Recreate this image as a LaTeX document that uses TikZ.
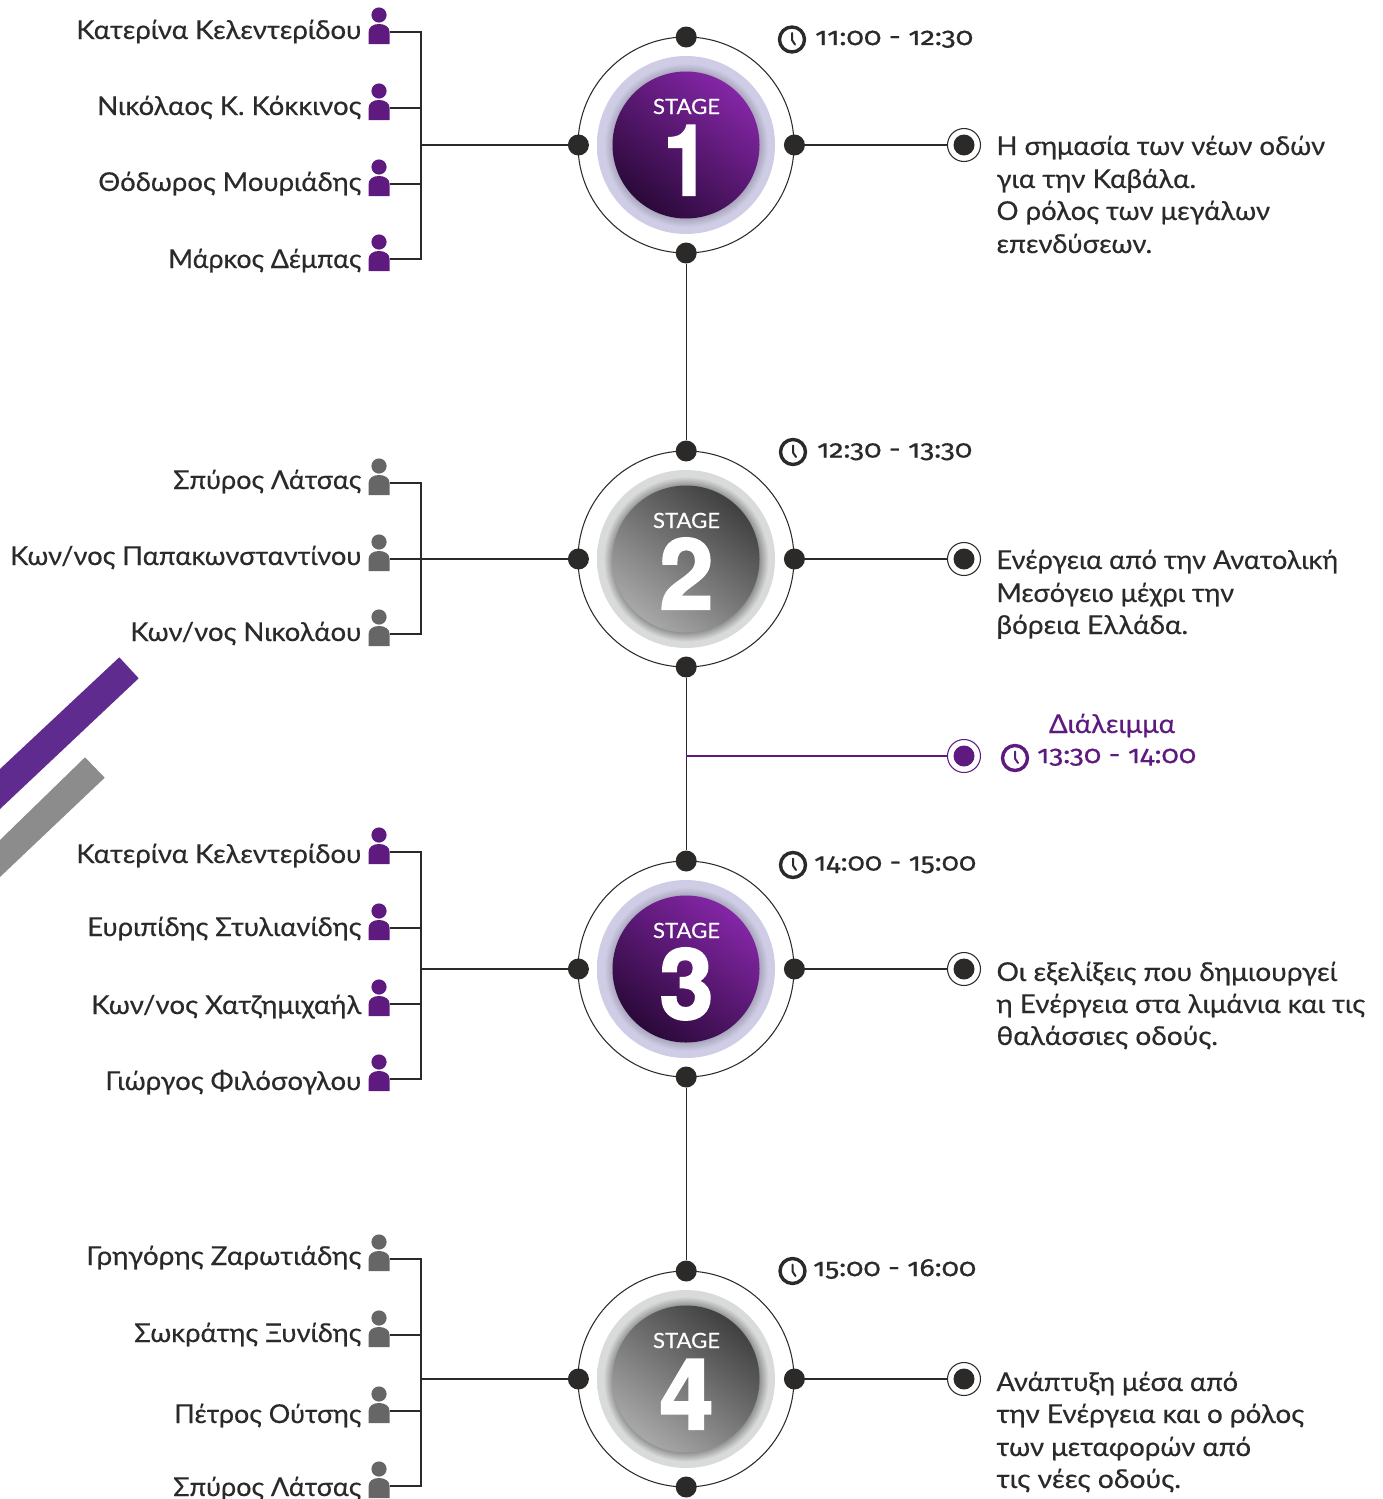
\documentclass[tikz,border=0pt]{standalone}
\usepackage{graphicx}
\usepackage{fontspec}
\setmainfont{Lato}
\newfontfamily\timefont[Numbers=OldStyle,FakeBold=0.5]{Fira Sans}
\newfontfamily\digitfont[FakeBold=2.2]{TeX Gyre Heros}
\newfontfamily\labelfont[FakeBold=0.35]{Lato}
\definecolor{ink}{HTML}{2B2A29}
\definecolor{vio}{HTML}{5F1A80}
\definecolor{pgrey}{HTML}{666666}
\definecolor{barvio}{HTML}{5F2B8E}
\definecolor{bargrey}{HTML}{8C8C8C}
\definecolor{vioLight}{HTML}{8426A6}
\definecolor{vioDark}{HTML}{2A0939}
\definecolor{greyDark}{HTML}{404040}
\definecolor{greyLight}{HTML}{A8A8A8}
\definecolor{HaloA}{HTML}{A5A2B8}
\definecolor{HaloB}{HTML}{CFCDE6}
\definecolor{HaloC}{HTML}{8C8C8C}
\definecolor{HaloD}{HTML}{D9DBDB}
\newcommand\fitw[2]{\resizebox{#1pt}{\height}{#2}}
\pgfdeclareradialshading{halopurple}{\pgfpoint{0bp}{0bp}}{color(0bp)=(HaloA);color(20.4bp)=(HaloA);color(23bp)=(HaloB);color(25bp)=(HaloB);color(50bp)=(HaloB)}
\pgfdeclareradialshading{halogrey}{\pgfpoint{0bp}{0bp}}{color(0bp)=(HaloC);color(20.4bp)=(HaloC);color(23.2bp)=(HaloD);color(25bp)=(HaloD);color(50bp)=(HaloD)}
\tikzset{
  x=1pt,y=-1pt,
  link/.style={draw=ink,line width=1.15pt},
  vlink/.style={draw=vio,line width=1.15pt},
  ringline/.style={draw=ink,line width=1.05pt},
  dot/.style={circle,fill=ink,draw=none,minimum size=21pt,inner sep=0pt},
  termring/.style={circle,fill=white,draw=#1,line width=1.05pt,minimum size=33pt,inner sep=0pt},
  termdot/.style={circle,fill=#1,draw=none,minimum size=21pt,inner sep=0pt},
  nametxt/.style={anchor=base east,inner sep=0pt,text=ink,font=\fontsize{26}{26}\labelfont},
  desctxt/.style={anchor=base west,inner sep=0pt,text=ink,font=\fontsize{26}{26}\labelfont},
  timetxt/.style={anchor=base west,inner sep=0pt,text=#1,font=\fontsize{25}{25}\timefont},
  stagetxt/.style={anchor=base,inner sep=0pt,text=white,font=\fontsize{21}{21}\labelfont},
  digittxt/.style={anchor=base,inner sep=0pt,text=white,font=\fontsize{98}{98}\digitfont\bfseries},
  clockring/.style={circle,draw=#1,fill=white,line width=3.4pt,minimum size=25pt,inner sep=0pt},
}
\newcommand\stagemark[7]{%
  \coordinate (c#1) at (686,#2);
  \draw[ringline] (c#1) circle[radius=108];
  \shade[shading=#3] (c#1) circle[radius=89];
  \shade[top color=#4,bottom color=#5,shading angle=-38] (c#1) circle[radius=73.5];
  \node[stagetxt] (st#1) at (686.5,#2-31) {\fitw{67}{STAGE}};
  \node[digittxt] (dg#1) at (#6,#2+50) {\fitw{#7}{#1}};
  \node[dot] (t#1) at (686.2,#2-108) {};
  \node[dot] (b#1) at (686.2,#2+108) {};
  \node[dot] (l#1) at (578.4,#2) {};
  \node[dot] (r#1) at (794.4,#2) {};
  \coordinate (j#1) at (421,#2);
  \draw[link] (j#1) -- (l#1);
  \node[termring=ink] (o#1) at (964,#2) {};
  \node[termdot=ink] (i#1) at (964,#2) {};
  \draw[link] (r#1) -- (o#1);
}
\newcommand\person[3]{%
  \fill[#3] (379,#2-17) circle[radius=7.6];
  \fill[#3] (368.6,#2+12) -- (368.6,#2) .. controls (368.6,#2-5) and (373,#2-8) .. (379,#2-8) .. controls (385,#2-8) and (389.6,#2-5) .. (389.6,#2) -- (389.6,#2+12) -- cycle;
  \coordinate (#1) at (389.6,#2);
}
\newcommand\clockmark[4]{%
  \node[clockring=#4] (#1) at (#2,#3) {};
  \draw[#4,line width=2pt,line cap=round,line join=round] (#2,#3-6.5) -- (#2,#3+0.5) -- (#2+3,#3+5);
}
\begin{document}
\begin{tikzpicture}
\useasboundingbox (0,0) rectangle (1383,1499);
\fill[white] (0,0) rectangle (1383,1499);
\fill[barvio] (119.3,657.3) -- (138.7,678.3) -- (0,809) -- (0,769) -- cycle;
\fill[bargrey] (85,757.3) -- (104.7,777.7) -- (0,877) -- (0,840) -- cycle;
\stagemark{1}{145}{halopurple}{vioLight}{vioDark}{686.5}{46}
\stagemark{2}{559}{halogrey}{greyDark}{greyLight}{686.5}{54}
\stagemark{3}{969}{halopurple}{vioLight}{vioDark}{686.5}{54}
\stagemark{4}{1379}{halogrey}{greyDark}{greyLight}{686.5}{54}
\draw[link] (b1) -- (t2);
\draw[link] (b2) -- (t3);
\draw[link] (b3) -- (t4);
\coordinate (brk) at (686,756);
\node[termring=vio] (obk) at (964,756) {};
\node[termdot=vio] (ibk) at (964,756) {};
\draw[vlink] (brk) -- (obk);
\person{p11}{32}{vio}\person{p12}{108}{vio}\person{p13}{184}{vio}\person{p14}{259}{vio}
\draw[link] (p11) -| (j1);\draw[link] (p12) -| (j1);\draw[link] (p13) -| (j1);\draw[link] (p14) -| (j1);
\person{p21}{483}{pgrey}\person{p22}{559}{pgrey}\person{p23}{634}{pgrey}
\draw[link] (p21) -| (j2);\draw[link] (p22) -- (j2);\draw[link] (p23) -| (j2);
\person{p31}{852}{vio}\person{p32}{928}{vio}\person{p33}{1004}{vio}\person{p34}{1079}{vio}
\draw[link] (p31) -| (j3);\draw[link] (p32) -| (j3);\draw[link] (p33) -| (j3);\draw[link] (p34) -| (j3);
\person{p41}{1259}{pgrey}\person{p42}{1335}{pgrey}\person{p43}{1411}{pgrey}\person{p44}{1486}{pgrey}
\draw[link] (p41) -| (j4);\draw[link] (p42) -| (j4);\draw[link] (p43) -| (j4);\draw[link] (p44) -| (j4);
\node[nametxt] (n11) at (361.5,39) {\fitw{285}{Κατερίνα Κελεντερίδου}};
\node[nametxt] (n12) at (361.5,115) {\fitw{264}{Νικόλαος Κ. Κόκκινος}};
\node[nametxt] (n13) at (361.5,191) {\fitw{263}{Θόδωρος Μουριάδης}};
\node[nametxt] (n14) at (361.5,268) {\fitw{193}{Μάρκος Δέμπας}};
\node[nametxt] (n21) at (361.5,489) {\fitw{188}{Σπύρος Λάτσας}};
\node[nametxt] (n22) at (361.5,565) {\fitw{351}{Κων/νος Παπακωνσταντίνου}};
\node[nametxt] (n23) at (361.5,641) {\fitw{231}{Κων/νος Νικολάου}};
\node[nametxt] (n31) at (361.5,863) {\fitw{285}{Κατερίνα Κελεντερίδου}};
\node[nametxt] (n32) at (361.5,936) {\fitw{274}{Ευριπίδης Στυλιανίδης}};
\node[nametxt] (n33) at (361.5,1014) {\fitw{270}{Κων/νος Χατζημιχαήλ}};
\node[nametxt] (n34) at (361.5,1090) {\fitw{256}{Γιώργος Φιλόσογλου}};
\node[nametxt] (n41) at (361.5,1265) {\fitw{275}{Γρηγόρης Ζαρωτιάδης}};
\node[nametxt] (n42) at (361.5,1342) {\fitw{227}{Σωκράτης Ξυνίδης}};
\node[nametxt] (n43) at (361.5,1423) {\fitw{187}{Πέτρος Ούτσης}};
\node[nametxt] (n44) at (361.5,1496) {\fitw{188}{Σπύρος Λάτσας}};
\node[desctxt] (d11) at (996.3,155) {\fitw{328.5}{Η σημασία των νέων οδών}};
\node[desctxt] (d12) at (996.3,188) {\fitw{199.5}{για την Καβάλα.}};
\node[desctxt] (d13) at (996.3,220) {\fitw{273.5}{Ο ρόλος των μεγάλων}};
\node[desctxt] (d14) at (996.3,253) {\fitw{155.5}{επενδύσεων.}};
\node[desctxt] (d21) at (996.3,569) {\fitw{341.5}{Ενέργεια από την Ανατολική}};
\node[desctxt] (d22) at (996.3,602) {\fitw{237.5}{Μεσόγειο μέχρι την}};
\node[desctxt] (d23) at (996.3,634) {\fitw{191.5}{βόρεια Ελλάδα.}};
\node[desctxt] (d31) at (996.3,981) {\fitw{340.5}{Οι εξελίξεις που δημιουργεί}};
\node[desctxt] (d32) at (996.3,1013) {\fitw{368.5}{η Ενέργεια στα λιμάνια και τις}};
\node[desctxt] (d33) at (996.3,1045) {\fitw{221.5}{θαλάσσιες οδούς.}};
\node[desctxt] (d41) at (996.3,1391) {\fitw{241.5}{Ανάπτυξη μέσα από}};
\node[desctxt] (d42) at (996.3,1423) {\fitw{307.5}{την Ενέργεια και ο ρόλος}};
\node[desctxt] (d43) at (996.3,1456) {\fitw{254.5}{των μεταφορών από}};
\node[desctxt] (d44) at (996.3,1488) {\fitw{184.5}{τις νέες οδούς.}};
\clockmark{k1}{792}{39.5}{ink}
\node[timetxt=ink] (tm1) at (815,45) {\fitw{158}{11:00 - 12:30}};
\clockmark{k2}{793}{452}{ink}
\node[timetxt=ink] (tm2) at (817,457.5) {\fitw{155}{12:30 - 13:30}};
\clockmark{k3}{793}{865}{ink}
\node[timetxt=ink] (tm3) at (814,870.5) {\fitw{162}{14:00 - 15:00}};
\clockmark{k4}{792.5}{1271}{ink}
\node[timetxt=ink] (tm4) at (813,1276) {\fitw{163}{15:00 - 16:00}};
\clockmark{kb}{1015}{758}{vio}
\node[timetxt=vio] (tmb) at (1037,763) {\fitw{159}{13:30 - 14:00}};
\node[anchor=base,inner sep=0pt,text=vio,font=\fontsize{26}{26}\labelfont] (brklabel) at (1112,733) {\fitw{126}{Διάλειμμα}};
\end{tikzpicture}
\end{document}
